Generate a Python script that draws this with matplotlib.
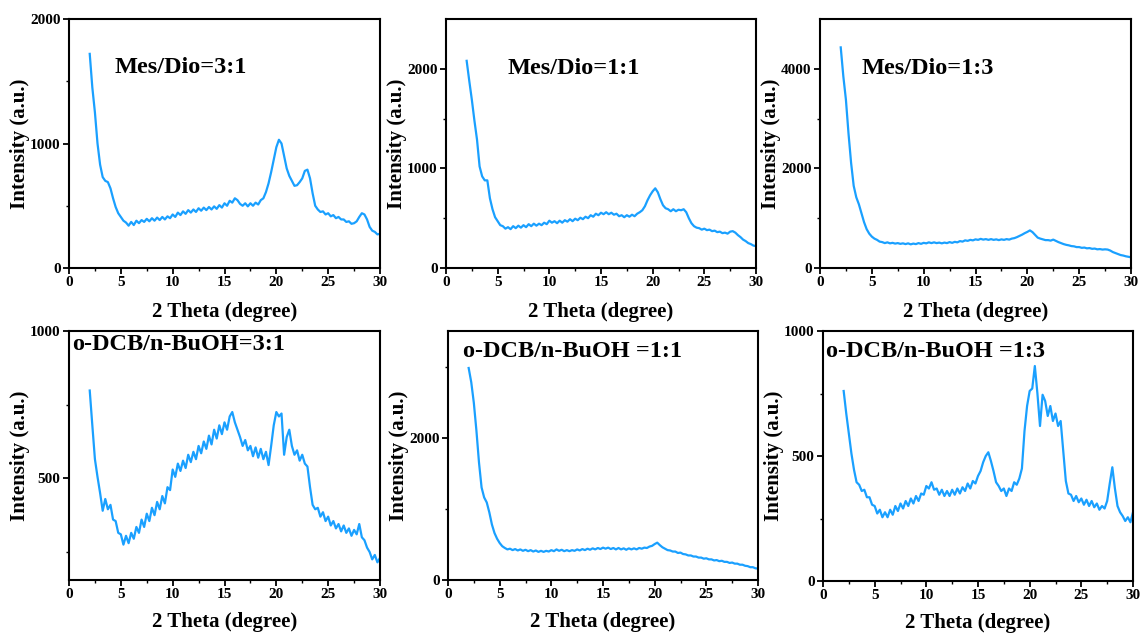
import numpy as np
import matplotlib
matplotlib.use("Agg")
import matplotlib.pyplot as plt

plt.rcParams['font.family'] = ['Liberation Serif', 'DejaVu Serif']
plt.rcParams['font.weight'] = 'bold'

# ---- data (2theta from 2 to 30 deg, step 0.25) ----
x_start = 2.0
x_step = 0.25

mes_31 = [1720, 1450, 1250, 1000, 830, 730, 700, 690, 640, 560, 490, 440, 410, 380, 365, 340,
          370, 345, 380, 360, 385, 370, 395, 375, 400, 380, 405, 385, 410, 390, 415, 400,
          430, 410, 445, 425, 455, 435, 465, 445, 470, 450, 480, 460, 485, 465, 490, 470,
          495, 475, 505, 485, 520, 500, 540, 525, 560, 545, 515, 500, 520, 495, 520, 500,
          525, 510, 545, 560, 610, 680, 770, 870, 970, 1030, 1000, 900, 800, 740, 700, 660,
          665, 690, 720, 780, 790, 720, 600, 500, 470, 450, 455, 430, 440, 415, 425, 400,
          410, 390, 390, 370, 375, 355, 360, 375, 410, 440, 430, 390, 330, 300, 290, 270, 275]

mes_11 = [2080, 1880, 1690, 1480, 1290, 1020, 920, 880, 880, 700, 590, 510, 470, 430, 420, 395,
          410, 390, 420, 400, 425, 405, 430, 410, 440, 420, 445, 425, 445, 430, 455, 440,
          475, 455, 470, 450, 475, 455, 480, 465, 490, 470, 495, 480, 505, 490, 515, 500,
          530, 515, 545, 530, 555, 540, 560, 540, 555, 535, 545, 520, 530, 510, 530, 515,
          535, 520, 545, 560, 580, 620, 680, 730, 770, 800, 760, 690, 630, 600, 590, 570,
          590, 570, 585, 580, 590, 560, 500, 450, 420, 405, 400, 385, 395, 380, 385, 370,
          375, 360, 365, 350, 355, 345, 365, 370, 355, 330, 310, 285, 270, 250, 240, 225, 220]

mes_13 = [4430, 3850, 3380, 2700, 2110, 1650, 1420, 1280, 1100, 920, 780, 690, 630, 590, 565, 530,
          520, 500, 515, 495, 505, 490, 500, 485, 495, 480, 495, 475, 490, 480, 500, 485,
          505, 495, 515, 500, 515, 500, 510, 495, 510, 500, 520, 505, 525, 515, 540, 530,
          555, 545, 565, 555, 575, 565, 585, 570, 580, 565, 580, 565, 575, 560, 575, 565,
          580, 570, 590, 600, 620, 645, 670, 700, 725, 755, 720, 665, 610, 590, 575, 560,
          560, 550, 570, 545, 520, 500, 480, 465, 455, 440, 435, 420, 420, 405, 410, 395,
          400, 385, 390, 375, 380, 370, 375, 370, 350, 320, 300, 280, 260, 250, 235, 225, 215]

dcb_31 = [798, 680, 565, 505, 450, 390, 430, 395, 410, 360, 355, 315, 310, 275, 305, 280,
          315, 295, 335, 315, 360, 335, 380, 355, 400, 375, 420, 395, 440, 415, 470, 460,
          530, 505, 550, 525, 560, 535, 580, 555, 590, 565, 610, 585, 625, 600, 645, 615,
          665, 635, 680, 650, 690, 665, 710, 725, 690, 665, 640, 610, 630, 595, 610, 575,
          605, 570, 600, 565, 590, 545, 610, 680, 725, 710, 720, 580, 640, 665, 610, 580,
          595, 560, 580, 550, 540, 470, 410, 395, 400, 370, 385, 355, 370, 340, 355, 330,
          345, 320, 340, 315, 330, 305, 325, 310, 345, 300, 290, 265, 250, 225, 240, 215, 230]

dcb_11 = [2980, 2780, 2490, 2100, 1650, 1300, 1160, 1090, 950, 780, 660, 580, 520, 475, 450, 430,
          440, 420, 435, 415, 430, 410, 425, 405, 420, 400, 415, 395, 410, 395, 410, 400,
          420, 405, 430, 410, 425, 405, 420, 405, 420, 410, 430, 415, 435, 420, 440, 425,
          445, 430, 450, 435, 455, 440, 455, 435, 450, 430, 450, 430, 445, 425, 445, 430,
          445, 430, 450, 440, 455, 450, 470, 480, 505, 525, 490, 460, 440, 420, 415, 400,
          400, 380, 385, 365, 360, 345, 345, 330, 330, 315, 315, 300, 305, 290, 290, 275,
          280, 265, 270, 255, 255, 240, 245, 230, 230, 215, 215, 200, 195, 180, 180, 165, 160]

dcb_13 = [760, 670, 590, 510, 445, 395, 385, 360, 365, 335, 335, 305, 300, 270, 285, 255,
          275, 255, 285, 265, 300, 280, 310, 290, 320, 300, 330, 310, 340, 320, 350, 345,
          380, 370, 395, 365, 370, 345, 365, 340, 360, 340, 365, 345, 370, 350, 375, 360,
          390, 370, 400, 390, 420, 440, 475, 500, 515, 480, 440, 395, 380, 360, 370, 340,
          370, 360, 395, 385, 410, 450, 600, 700, 760, 770, 860, 750, 620, 745, 720, 660,
          700, 640, 670, 620, 640, 520, 400, 350, 345, 320, 340, 315, 330, 305, 325, 300,
          320, 295, 310, 285, 300, 290, 320, 390, 455, 370, 300, 275, 260, 240, 255, 235, 275]

series = [mes_31, mes_11, mes_13, dcb_31, dcb_11, dcb_13]
labels = ["Mes/Dio=3:1", "Mes/Dio=1:1", "Mes/Dio=1:3",
          "o-DCB/n-BuOH=3:1", "o-DCB/n-BuOH =1:1", "o-DCB/n-BuOH =1:3"]
ylims = [(0, 2000), (0, 2500), (0, 5000), (155, 1000), (0, 3500), (0, 1000)]
yticks_major = [[0, 1000, 2000], [0, 1000, 2000], [0, 2000, 4000],
                [500, 1000], [0, 2000], [0, 500, 1000]]
yticks_minor = [[500, 1500], [500, 1500], [1000, 3000],
                [250, 750], [1000, 3000], [250, 750]]
label_pos = [(4.4, 1610), (6.0, 2000), (4.0, 4000), (0.3, 953), (1.45, 3213), (0.32, 917)]
xticks_major = [0, 5, 10, 15, 20, 25, 30]
xticks_minor = [2.5, 7.5, 12.5, 17.5, 22.5, 27.5]

line_color = '#1AA0FF'

W, H = 1142, 635
fig = plt.figure(figsize=(W / 100, H / 100), dpi=100)

# axes boxes in pixels: left, top, right, bottom
boxes = [(69, 19, 380, 268), (446, 19, 756, 268), (820, 19, 1131, 268),
         (69, 331, 380, 580), (448, 331, 758, 580), (823, 331, 1133, 581)]
xlabel_off = [44, 44, 44, 42, 42, 42]

for i, (yv, lab) in enumerate(zip(series, labels)):
    l, t, r, b = boxes[i]
    wpx, hpx = r - l, b - t
    ax = fig.add_axes([l / W, 1 - b / H, wpx / W, hpx / H])
    xv = x_start + x_step * np.arange(len(yv))
    ax.plot(xv, yv, color=line_color, lw=1.6)
    ax.set_xlim(0, 30)
    ax.set_ylim(*ylims[i])
    ax.set_xticks(xticks_major)
    ax.set_xticks(xticks_minor, minor=True)
    ax.set_yticks(yticks_major[i])
    ax.set_yticks(yticks_minor[i], minor=True)
    ax.tick_params(which='major', direction='out', length=4, width=1.3,
                   labelsize=11, pad=2, top=False, right=False)
    ax.tick_params(which='minor', direction='out', length=2.5, width=1.0,
                   top=False, right=False)
    for lbl in ax.get_xticklabels() + ax.get_yticklabels():
        lbl.set_fontweight('bold')
    for sp in ax.spines.values():
        sp.set_linewidth(1.5)
    ax.set_xlabel("2 Theta (degree)", fontsize=15, fontweight='bold', va='center')
    ax.set_ylabel("Intensity (a.u.)", fontsize=15, fontweight='bold', va='center')
    ax.xaxis.set_label_coords(0.5, -xlabel_off[i] / hpx)
    ax.yaxis.set_label_coords(-49 / wpx, 0.5)
    tx, ty = label_pos[i]
    ax.text(tx, ty, lab, fontsize=17.5, fontweight='bold', ha='left', va='center')

fig.savefig("out.png", dpi=100)
